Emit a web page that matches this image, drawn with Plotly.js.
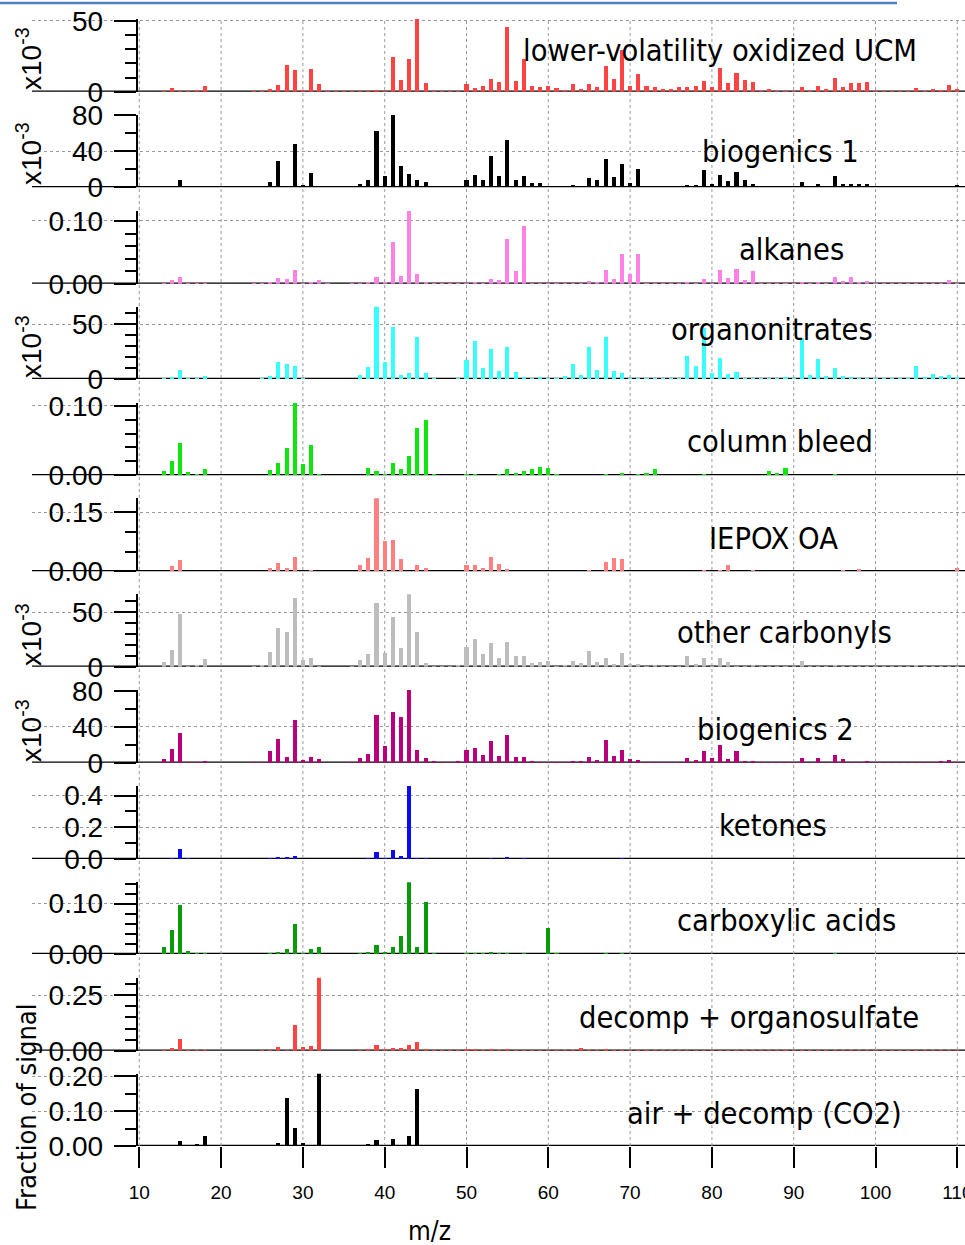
<!DOCTYPE html>
<html>
<head>
<meta charset="utf-8">
<script src="https://cdn.plot.ly/plotly-3.0.1.min.js"></script>
<style>
  html, body { margin: 0; padding: 0; background: #fff; }
  #chart { width: 965px; height: 1245px; }
</style>
</head>
<body>
<div id="chart"></div>
<script>
// Integer m/z values shared by every factor spectrum
const mz = [12, 13, 14, 15, 16, 17, 18, 19, 20, 21,
  22, 23, 24, 25, 26, 27, 28, 29, 30, 31,
  32, 33, 34, 35, 36, 37, 38, 39, 40, 41,
  42, 43, 44, 45, 46, 47, 48, 49, 50, 51,
  52, 53, 54, 55, 56, 57, 58, 59, 60, 61,
  62, 63, 64, 65, 66, 67, 68, 69, 70, 71,
  72, 73, 74, 75, 76, 77, 78, 79, 80, 81,
  82, 83, 84, 85, 86, 87, 88, 89, 90, 91,
  92, 93, 94, 95, 96, 97, 98, 99, 100, 101,
  102, 103, 104, 105, 106, 107, 108, 109, 110];

// Factor mass spectra (fraction of signal at each m/z)
const ucm = [0, .0004, .0026, .0006, .0005, .001, .004, 0, 0, 0,
  0, 0, .0003, .0005, .0017, .0045, .019, .0152, .0014, .0158,
  .0052, .0003, .0002, .0002, .0003, .0005, .0008, .001, .0008, .0248,
  .0083, .0229, .0512, .0059, .0005, .0005, .0004, .0008, .0054, .0024,
  .004, .0092, .0068, .046, .0075, .0229, .004, .0035, .004, .0024,
  .0012, .0052, .0019, .0057, .0035, .0184, .009, .0295, .004, .0123,
  .0038, .003, .0017, .0017, .0035, .003, .004, .0075, .0035, .0165,
  .0064, .013, .0083, .0071, .0005, .0021, .0003, .0003, .0005, .0033,
  .0007, .004, .0017, .0097, .003, .0059, .0059, .0066, .0005, .0005,
  .0003, .0005, .0007, .0028, .0005, .0021, .0012, .005, .0017];

const biogenics1 = [0, 0, .001, .0082, 0, 0, 0, 0, 0, 0,
  0, 0, 0, 0, .0063, .0287, 0, .0484, .0022, .0156,
  0, 0, 0, 0, 0, .0033, .0082, .0629, .0126, .0805,
  .0238, .0153, .0078, .006, 0, 0, 0, 0, .0078, .0141,
  .0078, .0353, .0126, .0528, .0082, .013, .0052, .0052, .0019, .0015,
  0, .0022, 0, .0108, .0082, .0312, .0119, .0257, .0052, .02,
  .0015, .0015, 0, 0, 0, .0026, .0026, .0193, .0033, .0138,
  .007, .0167, .0082, .0037, 0, .0015, 0, 0, 0, .0056,
  0, .0041, 0, .0126, .0033, .0041, .0033, .0033, 0, 0,
  0, 0, 0, .0015, 0, .0015, .0015, .0019, .0022];

const alkanes = [0, .001, .0053, .0101, .001, .001, .0016, 0, 0, 0,
  0, 0, .0005, .0008, .002, .009, .0074, .0213, .0016, .002,
  .0053, .0005, 0, 0, .0005, .001, .002, .0101, .0032, .066,
  .0122, .1165, .0154, .0027, .001, .0005, .0005, .0008, .0016, .002,
  .0016, .0069, .0059, .0713, .0197, .092, .001, .0005, .001, .0005,
  .0005, .001, .0005, .0043, .002, .0223, .0074, .0468, .0149, .0468,
  .0005, .0005, .0005, .0005, .0005, .002, .001, .0069, .0016, .0218,
  .009, .0234, .0059, .0197, .0005, .0005, .0005, .0005, .0005, .002,
  .0005, .002, .001, .0106, .0043, .0112, .002, .0043, .0005, .0005,
  .0005, .0005, .0005, .0016, .0005, .0005, .0005, .0053, .0005];

const organonitrates = [0, .0006, .0015, .0082, .0009, .0009, .0027, 0, 0, 0,
  0, 0, .0003, .0006, .0027, .0159, .0137, .0119, .0012, .0003,
  .0003, 0, 0, 0, .0003, .0037, .011, .0665, .0156, .0473,
  .004, .0058, .0384, .0058, .0009, .0003, .0003, .0009, .0177, .0351,
  .01, .0275, .0073, .029, .0064, .0018, .0012, .0018, .0006, .0006,
  .0027, .0134, .0037, .029, .0082, .0384, .007, .0055, .0006, .0009,
  .0009, .0009, .0012, .0009, .0009, .021, .0119, .0464, .0058, .0189,
  .0046, .0061, .0009, .0009, .0009, .0009, .0009, .0018, .0009, .0372,
  .0037, .0183, .0024, .01, .0024, .0018, .0009, .0009, .0006, .0006,
  .0006, .0006, .0006, .0116, .0015, .0043, .0027, .0037, .0018];

const columnBleed = [0, .0062, .0201, .0459, .0043, .0019, .0086, 0, 0, 0,
  0, 0, 0, .0005, .0077, .0182, .0392, .1045, .0163, .0431,
  .0019, 0, 0, 0, 0, .0005, .0105, .0057, .0019, .0172,
  .0086, .0273, .0679, .0794, .0014, .0005, .0005, .0005, .0014, .0014,
  .0005, .0005, .0019, .0091, .0029, .0057, .0086, .012, .01, .0024,
  .0005, .0005, .0005, .0005, .0005, .0014, .0005, .0033, .0005, .0024,
  .0038, .0086, .0005, .0005, .0005, .0005, .0005, .0019, .0005, .0005,
  .0005, .0005, .0005, .0005, .0005, .0062, .0038, .01, .0005, .0005,
  .0005, .0005, .0005, .0014, .0005, .0005, .0005, .0005, .0005, .0005,
  .0005, .001, .0005, .0005, .0005, .0005, .0005, .0005, .0005];

const iepoxOA = [0, .0017, .0136, .028, .0017, .0017, .001, 0, 0, 0,
  0, 0, .001, .001, .0076, .0212, .0076, .0373, .0017, .0025,
  .001, 0, 0, 0, .001, .017, .0347, .1855, .078, .0788,
  .0305, .0017, .017, .0076, .0017, .001, .001, .0017, .0161, .0161,
  .0076, .0373, .0195, .0059, .0017, .001, .001, .001, .001, .0017,
  .001, .001, .001, .0025, .001, .0237, .0339, .0314, .001, .0017,
  .001, .001, .001, .001, .001, .001, .001, .0025, .001, .0034,
  .017, .001, .001, .0025, .001, .001, .001, .001, .001, .001,
  .001, .001, .001, .0017, .0025, .001, .0059, .001, .001, .001,
  .001, .001, .001, .001, .001, .001, .001, .001, .0093];

const otherCarbonyls = [0, .0043, .015, .0488, .0006, .0012, .0071, 0, 0, 0,
  0, 0, .0006, .0012, .0132, .0356, .0319, .0635, .0058, .008,
  .0006, 0, 0, 0, .0006, .0058, .0117, .0586, .0126, .046,
  .0169, .0665, .0316, .0034, .0009, .0006, .0006, .0015, .0181, .0255,
  .0113, .0215, .0083, .023, .0101, .0101, .0037, .0046, .0052, .0006,
  .0015, .0049, .0034, .0144, .0046, .008, .0028, .0126, .0025, .0021,
  .0006, .0015, .0006, .0006, .0006, .0101, .0025, .0083, .0009, .0083,
  .004, .0006, .0006, .0015, .0006, .0006, .0006, .0006, .0006, .0049,
  .0006, .0006, .0006, .0018, .0006, .0006, .0006, .0006, .0006, .0006,
  .0006, .0006, .0006, .0012, .0006, .0006, .0006, .0006, .0006];

const biogenics2 = [0, .0037, .0156, .0333, .0007, .0004, .0015, 0, 0, 0,
  0, 0, .0004, .0011, .013, .0267, .0067, .0474, .003, .0059,
  .0044, 0, 0, 0, .0004, .0052, .0096, .0526, .0181, .0567,
  .0507, .0808, .0144, .0052, .0019, .0004, .0004, .0022, .0144, .0167,
  .0085, .0244, .0074, .0304, .0063, .0067, .0019, .0011, .0007, .0011,
  .0007, .0019, .0019, .0063, .0033, .0252, .0074, .0141, .0044, .0033,
  .0007, .0011, .0011, .0007, .0007, .0052, .0033, .013, .0048, .0193,
  .0044, .013, .0022, .0019, .0007, .0007, .0007, .0007, .0007, .0048,
  .0007, .0052, .0007, .0089, .0037, .0011, .0011, .0019, .0007, .0007,
  .0007, .0007, .0007, .0007, .0007, .0007, .0019, .003, .0007];

const ketones = [0, .002, .0084, .061, .004, .002, .002, 0, 0, 0,
  0, 0, 0, .002, .004, .0105, .0105, .019, .002, .002,
  .002, 0, 0, 0, .002, .002, .004, .042, .004, .059,
  .0168, .463, .0084, .004, .002, .002, .002, .002, .002, .002,
  .002, .004, .002, .0105, .002, .004, .002, .002, .002, .002,
  .002, .002, .002, .002, .002, .002, .002, .008, .002, .002,
  .002, .002, .002, .002, .002, .002, .002, .002, .002, .002,
  .002, .002, .002, .002, .002, .002, .002, .002, .002, .002,
  .002, .002, .002, .002, .002, .002, .002, .002, .002, .002,
  .002, .002, .002, .002, .002, .002, .002, .002, .002];

const carboxylicAcids = [0, .0132, .047, .0974, .006, .0013, .0013, 0, 0, 0,
  0, 0, .0007, .0007, .002, .0033, .0093, .0589, .002, .0106,
  .0146, 0, 0, 0, .0007, .0013, .0033, .0185, .004, .0146,
  .0358, .1442, .0146, .1033, .0013, .0007, .0007, .0007, .002, .0026,
  .0013, .004, .0013, .002, .0007, .0013, .0007, .0007, .051, .0013,
  .0007, .0007, .0007, .0007, .0007, .0013, .0007, .0013, .0007, .0007,
  .0007, .0007, .0007, .0007, .0007, .0007, .0007, .0007, .0007, .0007,
  .0007, .0007, .0007, .0007, .0007, .0007, .0007, .0007, .0007, .0007,
  .0007, .0007, .0007, .0013, .0007, .0007, .0007, .0007, .0007, .0007,
  .0007, .0007, .0007, .0007, .0007, .0007, .0007, .0007, .0007];

const decompOrganosulfate = [0, .0045, .012, .0512, .0015, .0015, .0015, 0, 0, 0,
  0, 0, .0008, .0015, .0045, .015, .0015, .116, .015, .021,
  .332, .0008, 0, 0, .0008, .0015, .006, .0256, .006, .012,
  .0105, .0256, .0377, .006, .0015, .0015, .0015, .0015, .006, .006,
  .0015, .0075, .0015, .0075, .0015, .0015, .0015, .0015, .0015, .0015,
  .0015, .0015, .0105, .0015, .0015, .0075, .0015, .0015, .0015, .0015,
  .0015, .0015, .0015, .0015, .0015, .003, .0015, .003, .0015, .0015,
  .0015, .0015, .0015, .0015, .0015, .0015, .0015, .0015, .0015, .0015,
  .0015, .0015, .0015, .0015, .0015, .0015, .0015, .0015, .0015, .0015,
  .0015, .0015, .0015, .0015, .0015, .0015, .0015, .0015, .0015];

const airDecompCO2 = [0, .001, .002, .0133, .002, .0057, .0286, 0, 0, 0,
  0, 0, 0, .001, .002, .0086, .136, .0505, .0086, .001,
  .2076, 0, 0, 0, 0, .001, .0067, .0181, .0038, .021,
  .0038, .0276, .162, .002, .001, 0, 0, .001, .002, .003,
  .001, .002, .001, .002, .001, .001, .001, .001, .001, .001,
  .001, .001, .001, .001, .001, .002, .001, .001, .001, .001,
  .001, .001, .001, .001, .001, .001, .001, .001, .001, .001,
  .001, .001, .001, .001, .001, .001, .001, .001, .001, .001,
  .001, .001, .001, .001, .001, .001, .001, .001, .001, .001,
  .001, .001, .001, .001, .001, .001, .001, .001, .001];

// Factor names (panel labels)
const factorNames = ['lower-volatility oxidized UCM', 'biogenics 1', 'alkanes',
  'organonitrates', 'column bleed', 'IEPOX OA', 'other carbonyls', 'biogenics 2',
  'ketones', 'carboxylic acids', 'decomp + organosulfate', 'air + decomp (CO2)'];
const factorSpectra = [ucm, biogenics1, alkanes, organonitrates, columnBleed, iepoxOA,
  otherCarbonyls, biogenics2, ketones, carboxylicAcids, decompOrganosulfate, airDecompCO2];

// Axis tick values and labels
const xTickVals = [10, 20, 30, 40, 50, 60, 70, 80, 90, 100, 110];
const yTickVals = [[0, .05], [0, .04, .08], [0, .1], [0, .05], [0, .1], [0, .15],
  [0, .05], [0, .04, .08], [0, .2, .4], [0, .1], [0, .25], [0, .1, .2]];
const yTickText = [['0', '50'], ['0', '40', '80'], ['0.00', '0.10'], ['0', '50'],
  ['0.00', '0.10'], ['0.00', '0.15'], ['0', '50'], ['0', '40', '80'],
  ['0.0', '0.2', '0.4'], ['0.00', '0.10'], ['0.00', '0.25'], ['0.00', '0.10', '0.20']];

// ---- styling and geometry ----
const W = 965, H = 1245;
const PL = 32, PR = 965, PT = 0, PB = 1146;       // plot area in pixels
const px = x => (x - PL) / (PR - PL);              // pixel -> paper x
const py = y => (PB - y) / (PB - PT);              // pixel -> paper y
const AXIS_X = 136.7;                              // left axis line position

const panelStyle = [
  { color: '#ff4242', base: 91.7,   top: 19,    max: .0514, minor: .01, lx: 720, ly: 50,   milli: 59 },
  { color: '#000000', base: 187.3,  top: 115,   max: .0803, minor: .02, lx: 780, ly: 152,  milli: 154 },
  { color: '#ff80e6', base: 283.7,  top: 210.7, max: .1164, minor: .02, lx: 791, ly: 249 },
  { color: '#38ffff', base: 379,    top: 306.7, max: .0661, minor: .01, lx: 772, ly: 329,  milli: 347 },
  { color: '#0fe60f', base: 475.3,  top: 402.7, max: .1043, minor: .02, lx: 780, ly: 441 },
  { color: '#ff8080', base: 571.3,  top: 498.3, max: .1856, minor: .05, lx: 773, ly: 538 },
  { color: '#bdbdbd', base: 666.7,  top: 594.3, max: .0665, minor: .01, lx: 784, ly: 632,  milli: 635 },
  { color: '#b8007a', base: 762.7,  top: 690,   max: .0808, minor: .02, lx: 775, ly: 729,  milli: 731 },
  { color: '#0a0af5', base: 859,    top: 786,   max: .4606, minor: .1,  lx: 773, ly: 825 },
  { color: '#089a08', base: 954,    top: 882.3, max: .1425, minor: .02, lx: 786, ly: 920 },
  { color: '#ff4242', base: 1050.7, top: 977.7, max: .3294, minor: .05, lx: 749, ly: 1017 },
  { color: '#000000', base: 1146,   top: 1073.7,max: .2066, minor: .05, lx: 764, ly: 1113 }
];

const tickFont = { family: 'Liberation Sans, Arial, sans-serif', size: 28, color: '#000' };
const labelFont = { family: 'DejaVu Sans Condensed, DejaVu Sans, sans-serif', size: 30.5, color: '#000' };
const gridColor = '#9a9a9a';

const traces = [];
const layout = {
  width: W, height: H, autosize: false,
  margin: { l: PL, r: W - PR, t: PT, b: H - PB, pad: 0 },
  paper_bgcolor: '#ffffff', plot_bgcolor: 'rgba(0,0,0,0)',
  showlegend: false, bargap: 0,
  xaxis: {
    domain: [0, 1], range: [-3.12, 110.94], anchor: 'y12',
    tickmode: 'array', tickvals: xTickVals,
    ticks: 'outside', ticklen: 21, tickwidth: 2, tickcolor: '#000',
    showline: false, showgrid: false, zeroline: false,
    tickfont: { family: 'Liberation Sans, Arial, sans-serif', size: 19, color: '#000' },
    ticklabelstandoff: 8, ticklabeloverflow: 'allow', fixedrange: true
  },
  shapes: [], annotations: []
};

factorSpectra.forEach((vals, i) => {
  const s = panelStyle[i];
  const yName = i === 0 ? 'y' : 'y' + (i + 1);
  const yKey = i === 0 ? 'yaxis' : 'yaxis' + (i + 1);
  traces.push({
    type: 'bar', x: mz, y: vals, xaxis: 'x', yaxis: yName,
    width: 0.5, marker: { color: s.color, line: { width: 0 } },
    hoverinfo: 'skip'
  });
  layout[yKey] = {
    domain: [py(s.base), py(s.top)], range: [0, s.max],
    anchor: 'free', position: px(AXIS_X), side: 'left',
    showline: true, linecolor: '#000', linewidth: 2,
    tickmode: 'array', tickvals: yTickVals[i], ticktext: yTickText[i],
    ticks: 'outside', ticklen: 22, tickwidth: 2, tickcolor: '#000',
    tickfont: tickFont, ticklabelstandoff: 5,
    minor: { ticks: 'outside', ticklen: 11, tickwidth: 2, tickcolor: '#000',
             tickmode: 'linear', tick0: 0, dtick: s.minor, showgrid: false },
    showgrid: true, gridcolor: gridColor, gridwidth: 1, griddash: 'dot',
    zeroline: false, fixedrange: true
  };
  // black baseline of each spectrum
  layout.shapes.push({
    type: 'line', xref: 'paper', yref: yName,
    x0: i === factorSpectra.length - 1 ? px(AXIS_X) : 0, x1: 1, y0: 0, y1: 0,
    line: { color: '#000', width: 2.5 }, layer: 'between'
  });
  // factor name
  layout.annotations.push({
    xref: 'paper', yref: 'paper', x: px(s.lx), y: py(s.ly),
    xanchor: 'center', yanchor: 'middle', showarrow: false,
    text: factorNames[i], font: labelFont
  });
  // x10^-3 scale marker
  if (s.milli) {
    layout.annotations.push({
      xref: 'paper', yref: 'paper', x: px(29), y: py(s.milli),
      xanchor: 'center', yanchor: 'middle', showarrow: false, textangle: -90,
      text: 'x10<sup>-3</sup>',
      font: { family: 'Liberation Sans, Arial, sans-serif', size: 28, color: '#000' }
    });
  }
});

// vertical dotted grid running through the whole stack
xTickVals.forEach(v => {
  layout.shapes.push({
    type: 'line', xref: 'x', yref: 'paper', x0: v, x1: v, y0: 0, y1: py(19),
    line: { color: gridColor, width: 1, dash: 'dot' }, layer: 'below'
  });
});

// thin rule across the top of the page
layout.shapes.push({
  type: 'line', xref: 'paper', yref: 'paper', x0: px(0), x1: px(897), y0: py(3), y1: py(3),
  line: { color: '#4f7fbd', width: 2.5 }, layer: 'above'
});

// axis titles
layout.annotations.push({
  xref: 'paper', yref: 'paper', x: px(26), y: py(1108),
  xanchor: 'center', yanchor: 'middle', showarrow: false, textangle: -90,
  text: 'Fraction of signal', font: { family: labelFont.family, size: 27, color: '#000' }
});
layout.annotations.push({
  xref: 'paper', yref: 'paper', x: px(429), y: py(1231),
  xanchor: 'center', yanchor: 'middle', showarrow: false,
  text: 'm/z', font: { family: labelFont.family, size: 26, color: '#000' }
});

Plotly.newPlot('chart', traces, layout, { displayModeBar: false, staticPlot: true });
</script>
</body>
</html>
